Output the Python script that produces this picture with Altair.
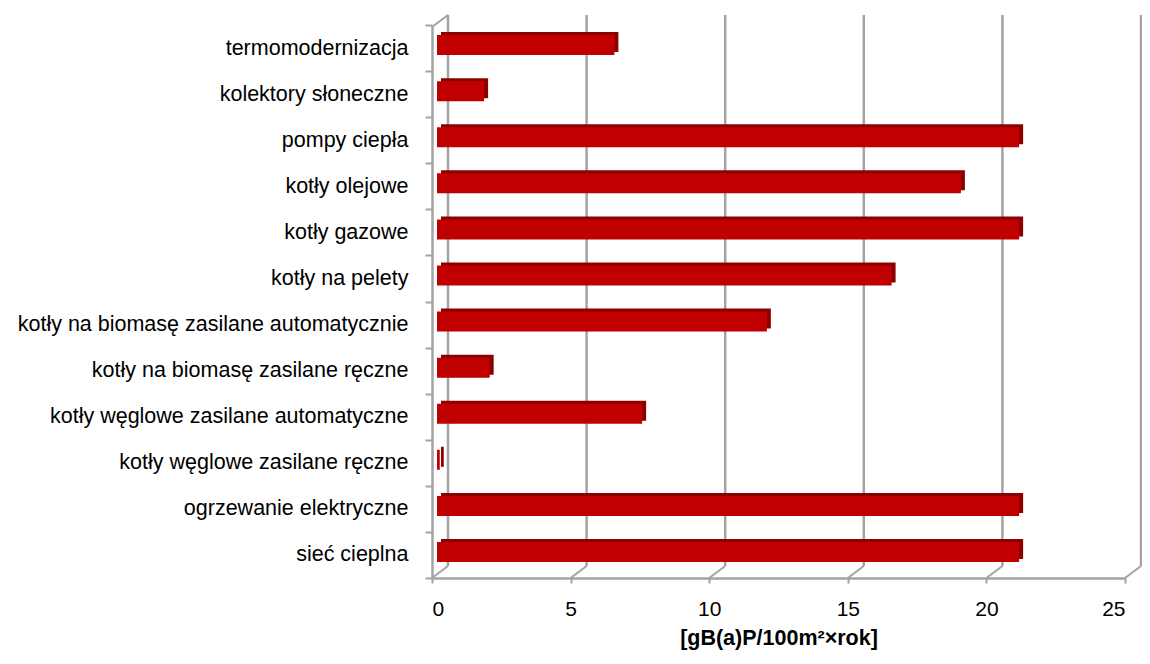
import altair as alt
import pandas as pd

categories = [
    "termomodernizacja",
    "kolektory słoneczne",
    "pompy ciepła",
    "kotły olejowe",
    "kotły gazowe",
    "kotły na pelety",
    "kotły na biomasę zasilane automatycznie",
    "kotły na biomasę zasilane ręczne",
    "kotły węglowe zasilane automatyczne",
    "kotły węglowe zasilane ręczne",
    "ogrzewanie elektryczne",
    "sieć cieplna",
]
values = [6.4, 1.7, 21.0, 18.9, 21.0, 16.4, 11.9, 1.9, 7.4, 0.1, 21.0, 21.0]
grid_ticks = [0, 5, 10, 15, 20, 25]
x_title = "[gB(a)P/100m²×rok]"

df = pd.DataFrame({"kategoria": categories, "wartosc": values})
gdf = pd.DataFrame({"v": grid_ticks})
ldf = pd.DataFrame({"v": [0]})

W, H = 693, 553
DX, DY = 16, 12
GRID = "#A3A3A3"
FONT = "Liberation Sans"

xscale = alt.Scale(domain=[0, 25], nice=False, zero=True)

grid = alt.Chart(gdf).mark_rule(color=GRID, strokeWidth=2.5, xOffset=DX).encode(
    x=alt.X("v:Q", scale=xscale),
    y=alt.value(-DY + 2),
    y2=alt.value(H - DY),
)
floor_diag = alt.Chart(gdf).mark_rule(color=GRID, strokeWidth=2, x2Offset=DX).encode(
    x=alt.X("v:Q", scale=xscale),
    x2="v:Q",
    y=alt.value(H),
    y2=alt.value(H - DY),
)
top_diag = alt.Chart(ldf).mark_rule(color=GRID, strokeWidth=2, x2Offset=DX).encode(
    x=alt.X("v:Q", scale=xscale),
    x2="v:Q",
    y=alt.value(2),
    y2=alt.value(-DY + 2),
)

yenc = alt.Y(
    "kategoria:N",
    sort=categories,
    scale=alt.Scale(paddingInner=0, paddingOuter=0),
    axis=alt.Axis(
        title=None,
        labelFont=FONT,
        labelFontSize=21.5,
        labelColor="#000000",
        labelPadding=17,
        labelLimit=600,
        tickBand="extent",
        tickColor=GRID,
        tickSize=7,
        tickWidth=2,
        domainColor=GRID,
        domainWidth=2.5,
    ),
)
xenc = alt.X(
    "wartosc:Q",
    scale=xscale,
    axis=alt.Axis(
        values=grid_ticks,
        grid=False,
        title=x_title,
        titleFont=FONT,
        titleFontSize=21.5,
        titleFontWeight="bold",
        titleColor="#000000",
        titlePadding=8,
        labelFont=FONT,
        labelFontSize=21,
        labelColor="#000000",
        labelPadding=15,
        tickColor=GRID,
        tickSize=5,
        tickWidth=2,
        domainColor=GRID,
        domainWidth=2.5,
    ),
)

depth = alt.Chart(df).mark_bar(
    color="#8C0000", size=20, xOffset=9, x2Offset=9, yOffset=-6
).encode(x=xenc, y=yenc)
front = alt.Chart(df).mark_bar(
    color="#C00000", size=20, xOffset=5, x2Offset=5, yOffset=-3
).encode(x=xenc, y=yenc)

chart = alt.layer(grid, floor_diag, top_diag, depth, front).properties(
    width=W,
    height=H,
    autosize=alt.AutoSizeParams(type="none"),
    padding={"left": 424, "top": 17, "right": 17, "bottom": 72},
    background="#FFFFFF",
).configure_view(stroke=None)

chart.save("out.html", embed_options={"renderer": "svg", "actions": False})
